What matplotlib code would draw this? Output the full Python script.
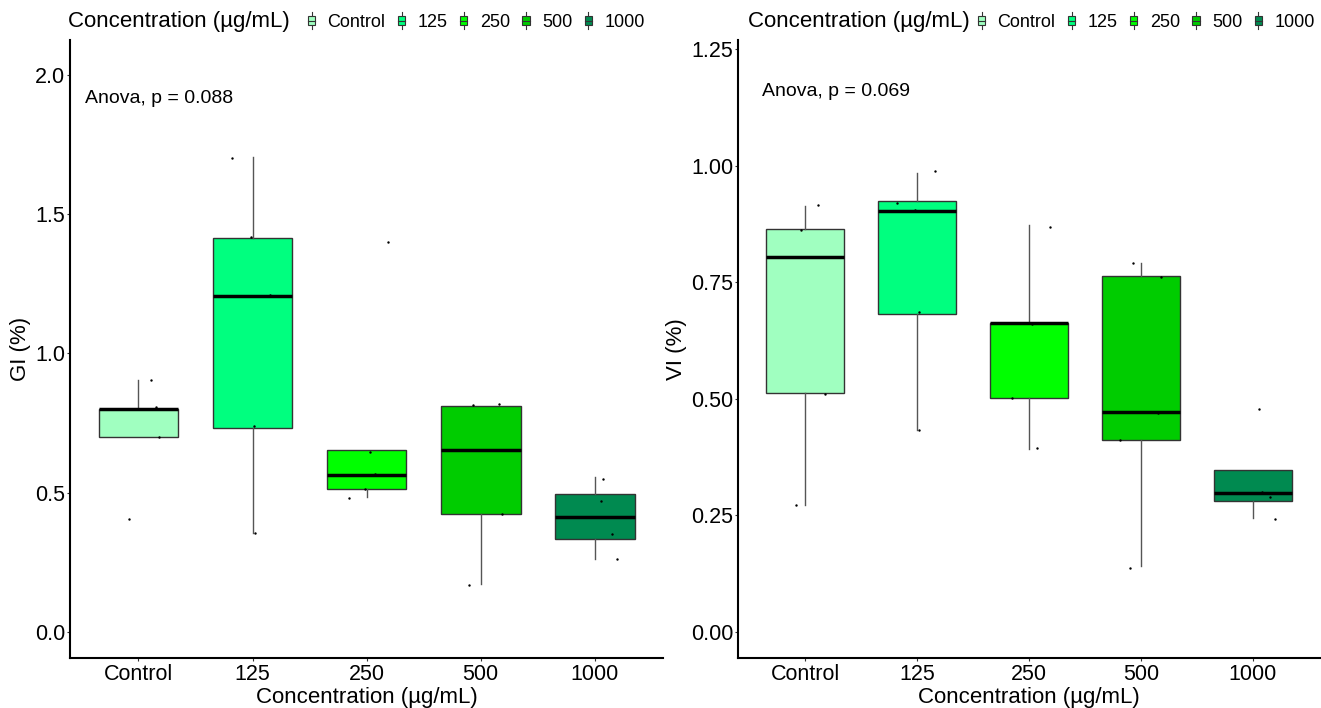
import matplotlib
matplotlib.use("Agg")
import matplotlib.pyplot as plt
from matplotlib.legend_handler import HandlerBase
from matplotlib.patches import Patch, Rectangle
from matplotlib.lines import Line2D

plt.rcParams['font.family'] = ['Liberation Sans', 'DejaVu Sans']

categories = ["Control", "125", "250", "500", "1000"]
colors = ["#A0FFC0", "#00FF7F", "#00FF00", "#00CC00", "#008A50"]

# GI (%) box stats
gi_q1 = [0.70, 0.733, 0.515, 0.425, 0.333]
gi_med = [0.80, 1.206, 0.563, 0.652, 0.414]
gi_q3 = [0.80, 1.414, 0.652, 0.813, 0.495]
gi_lo = [0.70, 0.354, 0.486, 0.174, 0.264]
gi_hi = [0.904, 1.705, 0.652, 0.813, 0.555]
# GI jittered points
gi_pts = [[0.904, 0.807, 0.70, 0.405],
          [1.70, 1.419, 1.209, 0.738, 0.354],
          [1.399, 0.648, 0.567, 0.515, 0.483],
          [0.815, 0.819, 0.652, 0.423, 0.170],
          [0.551, 0.472, 0.414, 0.351, 0.262]]
gi_dx = [[0.114, 0.155, 0.179, -0.086],
         [-0.182, -0.014, 0.155, 0.010, 0.024],
         [0.186, 0.028, 0.076, -0.01, -0.155],
         [-0.065, 0.162, 0.0, 0.186, -0.10],
         [0.076, 0.052, 0.0, 0.155, 0.196]]

# VI (%) box stats
vi_q1 = [0.513, 0.683, 0.5025, 0.412, 0.28]
vi_med = [0.804, 0.904, 0.662, 0.472, 0.298]
vi_q3 = [0.864, 0.924, 0.663, 0.764, 0.347]
vi_lo = [0.273, 0.433, 0.393, 0.142, 0.244]
vi_hi = [0.913, 0.984, 0.872, 0.792, 0.347]
vi_pts = [[0.915, 0.863, 0.805, 0.51, 0.273],
          [0.988, 0.921, 0.906, 0.686, 0.433],
          [0.869, 0.66, 0.501, 0.394],
          [0.792, 0.761, 0.469, 0.411, 0.138],
          [0.479, 0.301, 0.29, 0.242]]
vi_dx = [[0.116, -0.034, 0.149, 0.174, -0.084],
         [0.156, -0.18, -0.023, 0.013, 0.02],
         [0.188, 0.03, -0.156, 0.07],
         [-0.07, 0.18, 0.156, -0.184, -0.10],
         [0.052, 0.077, 0.153, 0.2]]

gi_ticks = [0.0, 0.5, 1.0, 1.5, 2.0]
vi_ticks = [0.0, 0.25, 0.5, 0.75, 1.0, 1.25]


class BoxGlyph(HandlerBase):
    """small vertical boxplot key like ggplot"""
    def create_artists(self, legend, orig_handle, xdescent, ydescent,
                       width, height, fontsize, trans):
        cx = width / 2 - xdescent
        bw = width * 0.8
        h = height * 1.15
        y0 = -ydescent + (height - h) / 2
        arts = [Line2D([cx, cx], [y0, y0 + h], color="#333333", lw=0.8, transform=trans),
                Rectangle((cx - bw / 2, y0 + h * 0.22), bw, h * 0.56,
                          facecolor=orig_handle.get_facecolor(), edgecolor="#333333",
                          lw=0.8, transform=trans),
                Line2D([cx - bw / 2, cx + bw / 2], [y0 + h / 2] * 2, color="#333333",
                       lw=0.8, transform=trans)]
        return arts


def draw_panel(ax, q1, med, q3, lo, hi, pts, dx, ticks, ylim, ylabel, ptext, fmt, txy):
    stats = []
    for i in range(len(categories)):
        stats.append(dict(q1=q1[i], med=med[i], q3=q3[i], whislo=lo[i], whishi=hi[i], fliers=[]))
    pos = list(range(1, len(categories) + 1))
    bp = ax.bxp(stats, positions=pos, widths=0.7, patch_artist=True, showcaps=False,
                boxprops=dict(edgecolor="#333333", linewidth=1.0),
                whiskerprops=dict(color="#555555", linewidth=1.0),
                medianprops=dict(color="black", linewidth=2.5, solid_capstyle="butt"))
    for b, c in zip(bp["boxes"], colors):
        b.set_facecolor(c)
    for i in range(len(categories)):
        xs = [pos[i] + d for d in dx[i]]
        ax.scatter(xs, pts[i], s=3, color="black", zorder=5, linewidths=0)
    ax.set_xlim(0.4, 5.6)
    ax.set_ylim(*ylim)
    ax.set_xticks(pos)
    ax.set_xticklabels(categories)
    ax.set_yticks(ticks)
    ax.set_yticklabels([fmt.format(t) for t in ticks])
    ax.tick_params(labelsize=15.5, length=2.5, width=0.8, colors="#333333", labelcolor="black", pad=1)
    ax.tick_params(axis="x", pad=2)
    for s in ["top", "right"]:
        ax.spines[s].set_visible(False)
    for s in ["left", "bottom"]:
        ax.spines[s].set_linewidth(1.5)
    ax.set_xlabel("Concentration (µg/mL)", fontsize=16, labelpad=1)
    ax.set_ylabel(ylabel, fontsize=16, labelpad=3)
    ax.text(txy[0], txy[1], ptext, transform=ax.transAxes, fontsize=14, va="center", ha="left")


fig = plt.figure(figsize=(13.21, 7.08), dpi=100)
ax1 = fig.add_axes([0.053, 0.0706, 0.449, 0.873])
ax2 = fig.add_axes([0.5587, 0.0706, 0.4406, 0.873])

draw_panel(ax1, gi_q1, gi_med, gi_q3, gi_lo, gi_hi, gi_pts, gi_dx, gi_ticks,
           (-0.093, 2.125), "GI (%)", "Anova, p = 0.088", "{:.1f}", (0.025, 0.906))
draw_panel(ax2, vi_q1, vi_med, vi_q3, vi_lo, vi_hi, vi_pts, vi_dx, vi_ticks,
           (-0.056, 1.27), "VI (%)", "Anova, p = 0.069", "{:.2f}", (0.041, 0.916))

handles = [Patch(facecolor=c) for c in colors]
for tx, lx in [(68, 307), (748, 977)]:
    fig.text(tx / 1321, 1 - 22 / 708, "Concentration (µg/mL)", fontsize=16, va="center", ha="left")
    fig.legend(handles, categories, handler_map={Patch: BoxGlyph()}, loc="center left",
               bbox_to_anchor=(lx / 1321, 1 - 22 / 708), ncol=5, frameon=False, fontsize=13,
               handlelength=0.5, handleheight=0.9, handletextpad=0.64, columnspacing=0.64,
               borderpad=0, borderaxespad=0)

fig.savefig("out.png", dpi=100)
